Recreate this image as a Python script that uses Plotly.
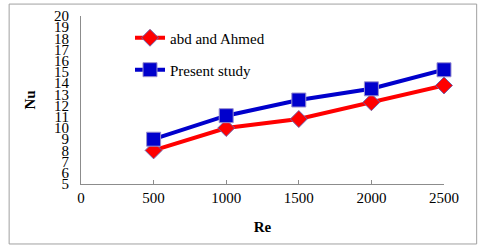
import plotly.graph_objects as go

re_vals = [500, 1000, 1500, 2000, 2500]
nu_abd = [8.0, 10.0, 10.8, 12.3, 13.8]
nu_present = [9.0, 11.1, 12.5, 13.5, 15.2]
x_ticks = [0, 500, 1000, 1500, 2000, 2500]
y_ticks = list(range(5, 21))

fig = go.Figure()
fig.add_trace(go.Scatter(
    x=re_vals, y=nu_abd, mode="lines+markers", name="abd and Ahmed",
    line=dict(color="#FF0000", width=4), cliponaxis=False,
    marker=dict(symbol="diamond", size=13, color="#FF0000",
                line=dict(color="#7060A8", width=1)),
    legend="legend"))
fig.add_trace(go.Scatter(
    x=re_vals, y=nu_present, mode="lines+markers", name="Present study",
    line=dict(color="#0000CC", width=4), cliponaxis=False,
    marker=dict(symbol="square", size=14, color="#0000CC",
                line=dict(color="#9A90D0", width=1)),
    legend="legend2"))

font = "Liberation Serif, Times New Roman, serif"
fig.update_layout(
    width=480, height=250,
    margin=dict(l=81, r=36, t=16, b=66, autoexpand=False),
    paper_bgcolor="white", plot_bgcolor="white",
    font=dict(family=font, size=15, color="black"),
    showlegend=True,
    legend=dict(x=0.135, y=0.869, xanchor="left", yanchor="middle",
                bgcolor="rgba(0,0,0,0)", font=dict(family=font, size=15)),
    legend2=dict(x=0.135, y=0.679, xanchor="left", yanchor="middle",
                 bgcolor="rgba(0,0,0,0)", font=dict(family=font, size=15)),
    xaxis=dict(range=[0, 2500], tickvals=x_ticks, showgrid=False, zeroline=False,
               showline=True, linecolor="#8c8c8c", linewidth=1, automargin=False,
               ticks="inside", ticklen=4, tickcolor="#8c8c8c",
               title=dict(text="<b>Re</b>", font=dict(size=15), standoff=16),
               tickfont=dict(size=15)),
    yaxis=dict(range=[5, 20], tickvals=y_ticks, showgrid=False, zeroline=False,
               showline=True, linecolor="#8c8c8c", linewidth=1, automargin=False,
               ticks="", tickfont=dict(size=15), ticklabelstandoff=8,
               title=dict(text="<b>Nu</b>", font=dict(size=15), standoff=14)),
    shapes=[dict(type="rect", xref="paper", yref="paper",
                 x0=-0.198, x1=1.09, y0=-0.357, y1=1.071,
                 line=dict(color="#a0a0a0", width=1), fillcolor="rgba(0,0,0,0)",
                 layer="below")],
)
fig.write_html("out.html", config={"displayModeBar": False},
               post_script="document.body.style.margin='0';")
